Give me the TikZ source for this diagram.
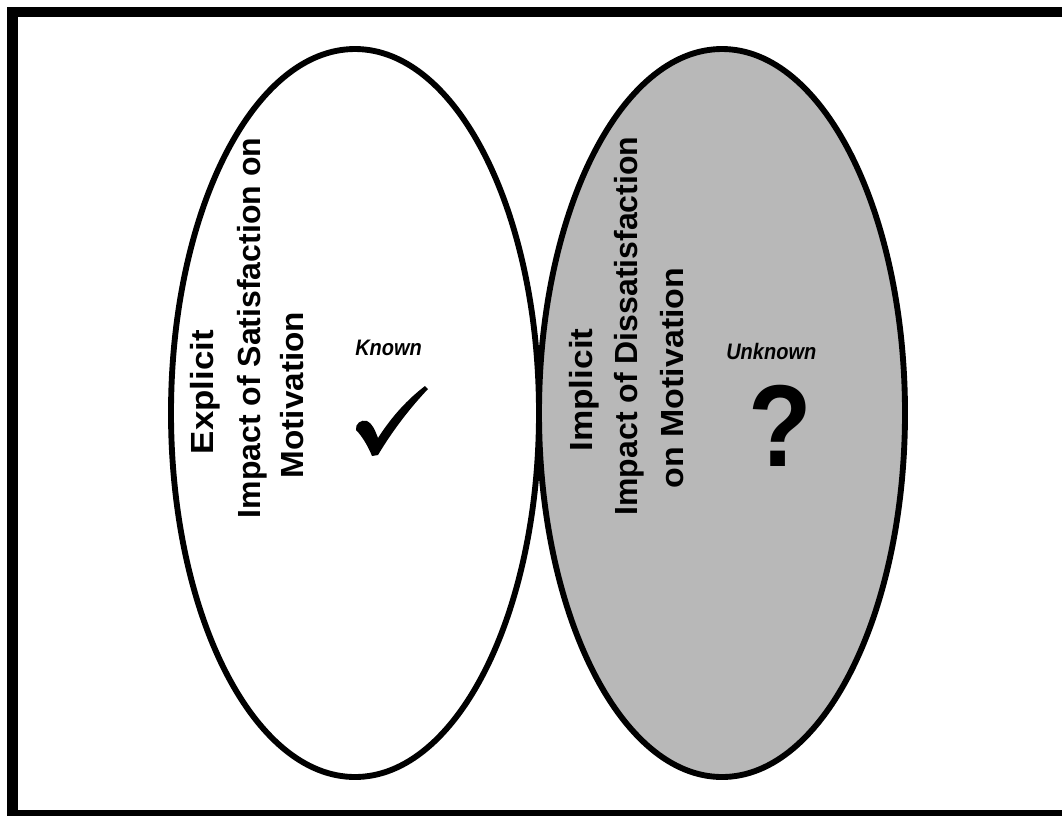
\documentclass[tikz,border=0pt]{standalone}
\usepackage{fontspec}
\setmainfont{Liberation Sans}
\definecolor{halftone}{gray}{0.72}
\begin{document}
\begin{tikzpicture}[x=0.75pt,y=-0.75pt,
  lbl/.style={font=\fontsize{24}{24}\selectfont\bfseries, rotate=90, anchor=base, inner sep=0pt},
  tag/.style={font=\fontsize{15}{15}\selectfont\bfseries\itshape, yscale=1.12, anchor=base west, inner sep=0pt},
  oval/.style={draw=black, line width=4.4pt}]
\useasboundingbox (0,0) rectangle (1062,815);
\clip (0,0) rectangle (1062,815);
% heavy frame, running off the right and bottom edges
\draw[line width=7.8pt] (12.5,12) rectangle (1080,815);
% the two ovals
\draw[oval, fill=white] (355,413) ellipse [x radius=138pt, y radius=273pt];
\draw[oval, fill=halftone] (722,413) ellipse [x radius=137.25pt, y radius=273pt];
% left oval labels
\node[lbl, xscale=1.09] (exp)  at (213,392) {Explicit};
\node[lbl] (imps) at (260,328) {Impact of Satisfaction on};
\node[lbl, xscale=1.04] (mots) at (303,395) {Motivation};
\node[tag] (known) at (355,355) {Known};
% tick mark
\fill (356,430) .. controls (355,424) and (361,419) .. (367,421)
      .. controls (372,423) and (375,430) .. (378,438)
      .. controls (392,416) and (408,399) .. (425,386)
      -- (428,389)
      .. controls (410,408) and (393,430) .. (378,455)
      -- (372,456)
      .. controls (368,446) and (362,436) .. (356,430) -- cycle;
% right oval labels
\node[lbl, xscale=1.1] (imp)  at (592,390) {Implicit};
\node[lbl] (impd) at (637,326) {Impact of Dissatisfaction};
\node[lbl, xscale=1.06] (motd) at (683,378) {on Motivation};
\node[tag] (unknown) at (726,359) {Unknown};
\node[font=\fontsize{78}{78}\selectfont\bfseries, yscale=1.12, inner sep=0pt] (qm) at (780,426) {?};
\end{tikzpicture}
\end{document}
